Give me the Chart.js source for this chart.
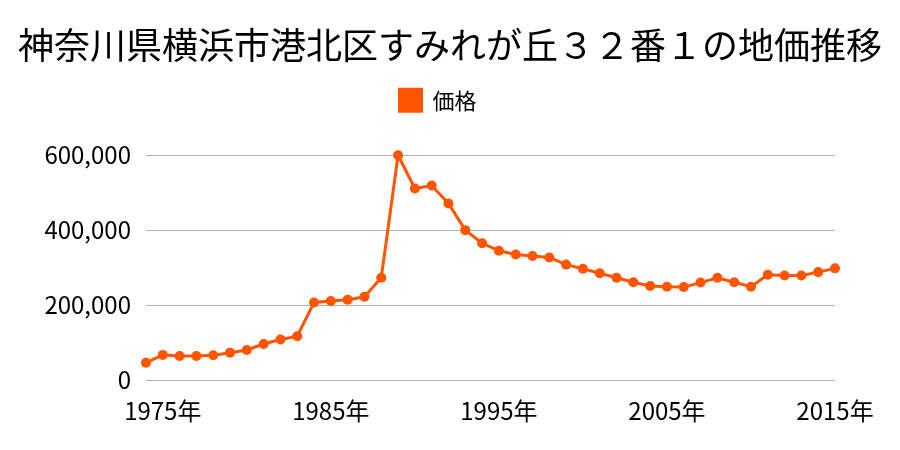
<!DOCTYPE html>
<html lang="ja">
<head>
<meta charset="utf-8">
<script src="https://cdn.jsdelivr.net/npm/chart.js@4"></script>
<style>
  html, body { margin: 0; padding: 0; background: #fff; }
  #wrap { width: 900px; height: 450px; }
</style>
</head>
<body>
<div id="wrap"><canvas id="chikaChart"></canvas></div>
<script>
// 年（カテゴリ）
const years = [
  1974, 1975, 1976, 1977, 1978, 1979, 1980, 1981, 1982, 1983,
  1984, 1985, 1986, 1987, 1988, 1989, 1990, 1991, 1992, 1993,
  1994, 1995, 1996, 1997, 1998, 1999, 2000, 2001, 2002, 2003,
  2004, 2005, 2006, 2007, 2008, 2009, 2010, 2011, 2012, 2013,
  2014, 2015,
];

// 価格（円/㎡）
const prices = [
  46000, 67000, 64000, 64000, 66000, 73000, 80000, 96000, 108000, 117000,
  207000, 211000, 214000, 222000, 273000, 600000, 511000, 519000, 471000, 400000,
  365000, 345000, 335000, 331000, 327000, 308000, 297000, 285000, 273000, 261000,
  251000, 249000, 248000, 260000, 273000, 261000, 249000, 281000, 279000, 279000,
  288000, 298000,
];

// 表示する目盛り
const xTickYears = [1975, 1985, 1995, 2005, 2015];
const yTicks = [0, 200000, 400000, 600000];

const fontFamily = '"Noto Sans CJK JP", "Noto Sans", sans-serif';

// 凡例の下に余白を足し、少し左へ寄せる
const legendSpace = {
  id: "legendSpace",
  beforeInit(chart) {
    const fitOrig = chart.legend.fit;
    chart.legend.fit = function () {
      fitOrig.bind(chart.legend)();
      this.height += 34;
    };
  },
  afterLayout(chart) {
    chart.legend.left -= 12;
    chart.legend.right -= 12;
  },
};

function cargarGrafico() {
  let canvas = document.getElementById("chikaChart");
  if (!canvas) return;

  let config = {
    type: "line",
    data: {
      labels: years.map((y) => y + "年"),
      datasets: [
        {
          label: "価格",
          data: prices,
          borderColor: "#FF5500",
          backgroundColor: "#FF5500",
          borderWidth: 3,
          tension: 0,
          pointRadius: 5,
          pointBorderWidth: 0,
          pointBackgroundColor: "#FF5500",
          clip: false,
        },
      ],
    },
    options: {
      responsive: true,
      maintainAspectRatio: false,
      animation: false,
      layout: {
        padding: 0,
      },
      plugins: {
        title: {
          display: true,
          text: "神奈川県横浜市港北区すみれが丘３２番１の地価推移",
          color: "#000",
          font: { family: fontFamily, size: 36, weight: "normal" },
          padding: { top: 24, bottom: 12 },
        },
        legend: {
          labels: {
            color: "#000",
            boxWidth: 22,
            boxHeight: 22,
            font: { family: fontFamily, size: 22 },
          },
        },
        tooltip: { enabled: false },
      },
      scales: {
        x: {
          grid: { display: false },
          border: { display: false },
          ticks: {
            color: "#000",
            autoSkip: false,
            maxRotation: 0,
            padding: 8,
            font: { family: fontFamily, size: 24 },
            callback: function (value, index) {
              return xTickYears.includes(years[index]) ? years[index] + "年" : "";
            },
          },
          afterFit: (s) => {
            s.height = 70;
          },
        },
        y: {
          min: yTicks[0],
          max: yTicks[yTicks.length - 1],
          border: { display: false },
          grid: {
            color: "#b3b3b3",
            drawTicks: false,
          },
          afterBuildTicks: (s) => {
            s.ticks = yTicks.map((v) => ({ value: v }));
          },
          ticks: {
            color: "#000",
            padding: 15,
            font: { family: fontFamily, size: 24 },
            callback: (v) => v.toLocaleString("en-US"),
          },
          afterFit: (s) => {
            s.width = 146;
          },
        },
        // 右側の余白用（表示なし）
        margenDer: {
          type: "linear",
          position: "right",
          grid: { display: false },
          border: { display: false },
          ticks: { display: false },
          afterFit: (s) => {
            s.width = 65;
          },
        },
      },
    },
    plugins: [legendSpace],
  };

  new Chart(canvas, config);
}

document.addEventListener("DOMContentLoaded", () => {
  cargarGrafico();
});
</script>
</body>
</html>
